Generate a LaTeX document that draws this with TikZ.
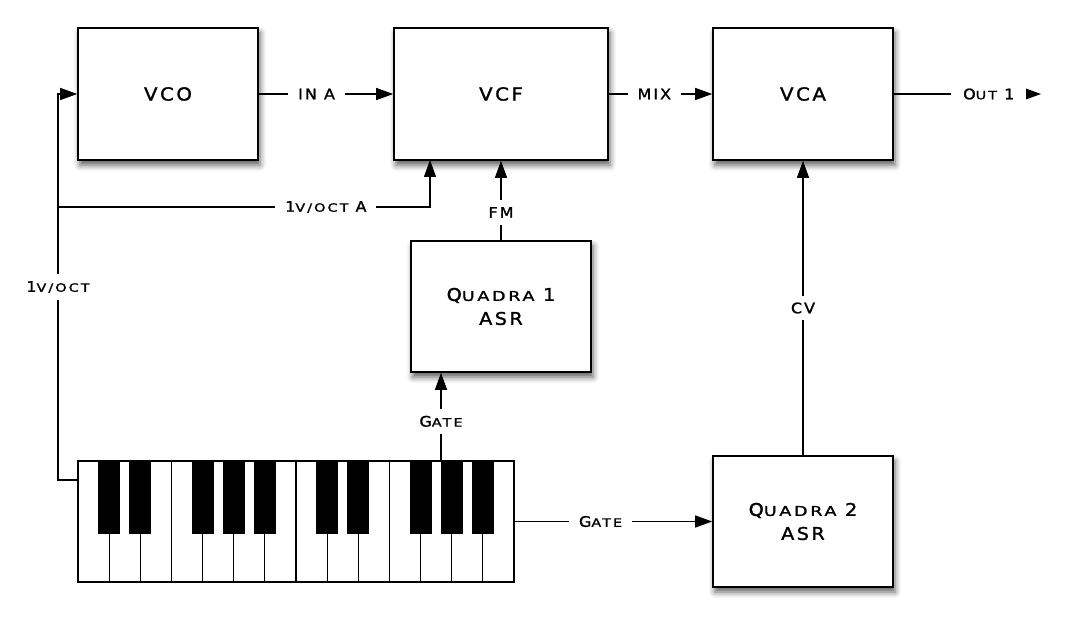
\documentclass[tikz,border=0pt]{standalone}
\usepackage{fontspec}
\setmainfont{DejaVu Sans}[FakeStretch=1.1,LetterSpace=14,FakeBold=1.4]
\usetikzlibrary{arrows.meta,shadows.blur}
% fake small capitals
\newcommand\lsc[1]{{\fontsize{11.5}{13}\addfontfeatures{FakeStretch=1.25,LetterSpace=18}\selectfont #1}}
\newcommand\bsc[1]{{\fontsize{13.5}{15}\addfontfeatures{FakeStretch=1.3,LetterSpace=20}\selectfont #1}}
\begin{document}
\begin{tikzpicture}[x=1pt,y=-1pt,
		module/.style={draw,line width=1.6pt,fill=white,minimum width=180pt,minimum height=132pt,align=center,
			blur shadow={shadow xshift=2pt,shadow yshift=-5pt,shadow blur radius=6pt,shadow opacity=65},
			font=\fontsize{18}{20}\selectfont},
		env/.style={module,minimum height=131pt,font=\fontsize{17.5}{24}\selectfont},
		wire/.style={line width=1.2pt},
		feed/.style={wire,-{Triangle[length=17pt,width=12pt]}},
		tag/.style={fill=white,inner xsep=10pt,inner ysep=7pt,font=\fontsize{14.5}{16}\selectfont}]
\useasboundingbox (0,0) rectangle (1080,628);
% modules
\node[module] (vco) at (168,94) {VCO};
\node[module,minimum width=214pt] (vcf) at (501,94) {VCF};
\node[module] (vca) at (803,94) {VCA};
\node[env] (q1) at (501,306.5) {Q\bsc{UADRA} 1\\ASR};
\node[env] (q2) at (803,521.5) {Q\bsc{UADRA} 2\\ASR};
% keyboard
\node[draw,wire,minimum width=436pt,minimum height=121pt,inner sep=0pt] (keys) at (296,521.5) {};
\foreach \k in {1,...,13}
	\draw[line width=1.1pt] (78+\k*31.14,461) -- ++(0,121);
\foreach \k in {1,2,4,5,6,8,9,11,12,13}
	\fill (78+\k*31.14-11,461) rectangle ++(22,73);
% audio path
\coordinate (out) at (1041,94);
\draw[feed] (vco) -- node[tag,pos=0.43]{IN A} (vcf);
\draw[feed] (vcf) -- node[tag,pos=0.44]{MIX} (vca);
\draw[feed] (vca) -- node[tag,pos=0.645,inner xsep=12pt]{O\lsc{UT} 1} (out);
% control voltages
\coordinate (kbin) at (58,480);
\coordinate (split) at (58,207);
\coordinate (vcfin) at (430,160);
\coordinate (tap) at (441,461);
\draw[feed] (kbin -| keys.west) -- (kbin) -- node[tag]{1\lsc{V/OCT}} (kbin |- vco) -- (vco);
\draw[feed] (split) -- node[tag,pos=0.72]{1\lsc{V/OCT} A} (split -| vcfin) -- (vcfin);
\draw[feed] (q1) -- node[tag,pos=0.35]{FM} (vcf);
\draw[feed] (tap) -- node[tag,pos=0.45]{G\lsc{ATE}} (tap |- q1.south);
\draw[feed] (keys.east) -- node[tag,pos=0.435]{G\lsc{ATE}} (q2);
\draw[feed] (q2) -- node[tag]{CV} (vca);
\end{tikzpicture}
\end{document}
